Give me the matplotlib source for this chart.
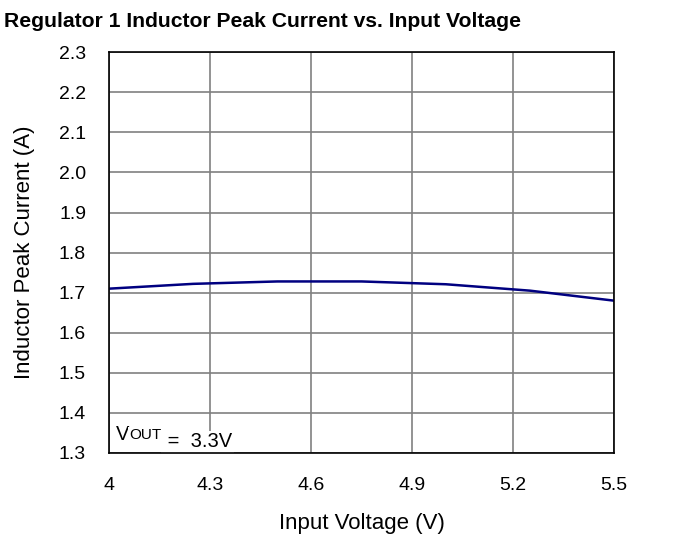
import matplotlib.pyplot as plt
import numpy as np

plt.rcParams['font.family'] = ['Liberation Sans', 'DejaVu Sans']

# input voltage (V) and inductor peak current (A)
vin = [4.0, 4.25, 4.5, 4.75, 5.0, 5.25, 5.5]
ipeak = [1.710, 1.722, 1.728, 1.728, 1.721, 1.705, 1.680]

xticks = [4, 4.3, 4.6, 4.9, 5.2, 5.5]
xticklabels = ['4', '4.3', '4.6', '4.9', '5.2', '5.5']
yticks = np.round(np.arange(1.3, 2.31, 0.1), 1)

fig = plt.figure(figsize=(6.81, 5.38), dpi=100)
ax = fig.add_axes([0.160, 0.158, 0.742, 0.745])

ax.plot(vin, ipeak, color='#000080', lw=1.8, zorder=3)

ax.set_xlim(4, 5.5)
ax.set_ylim(1.3, 2.3)
ax.set_xticks(xticks)
ax.set_xticklabels(xticklabels)
ax.set_yticks(yticks)
ax.set_yticklabels([f'{v:.1f}' for v in yticks])
ax.tick_params(length=0, labelsize=14)
ax.tick_params(axis='x', pad=17.5)
ax.tick_params(axis='y', pad=16.5)
ax.grid(True, color='#808080', lw=1.2)
for s in ax.spines.values():
    s.set_color('black')
    s.set_linewidth(1.2)
    s.set_zorder(4)

ax.set_xlabel('Input Voltage (V)', fontsize=16, labelpad=13.5)
ax.set_ylabel('Inductor Peak Current (A)', fontsize=16, labelpad=17)
fig.text(4 / 681, 1 - 27 / 538, 'Regulator 1 Inductor Peak Current vs. Input Voltage',
         fontsize=15.2, fontweight='bold', ha='left', va='baseline')

box = dict(facecolor='white', edgecolor='none', pad=1)
t1 = ax.text(4.022, 1.332, 'V', fontsize=14.5, va='baseline', bbox=box, zorder=3.5)
t2 = ax.annotate('OUT', xy=(1, 0), xycoords=t1, xytext=(0, 3.5),
                 textcoords='offset points', fontsize=11, va='baseline',
                 bbox=box, zorder=3.5)
ax.annotate(' =  3.3V', xy=(1, 0), xycoords=t2, xytext=(0, -3.5),
            textcoords='offset points', fontsize=14.5, va='baseline',
            bbox=box, zorder=3.5)

fig.savefig('out.png', dpi=100)
